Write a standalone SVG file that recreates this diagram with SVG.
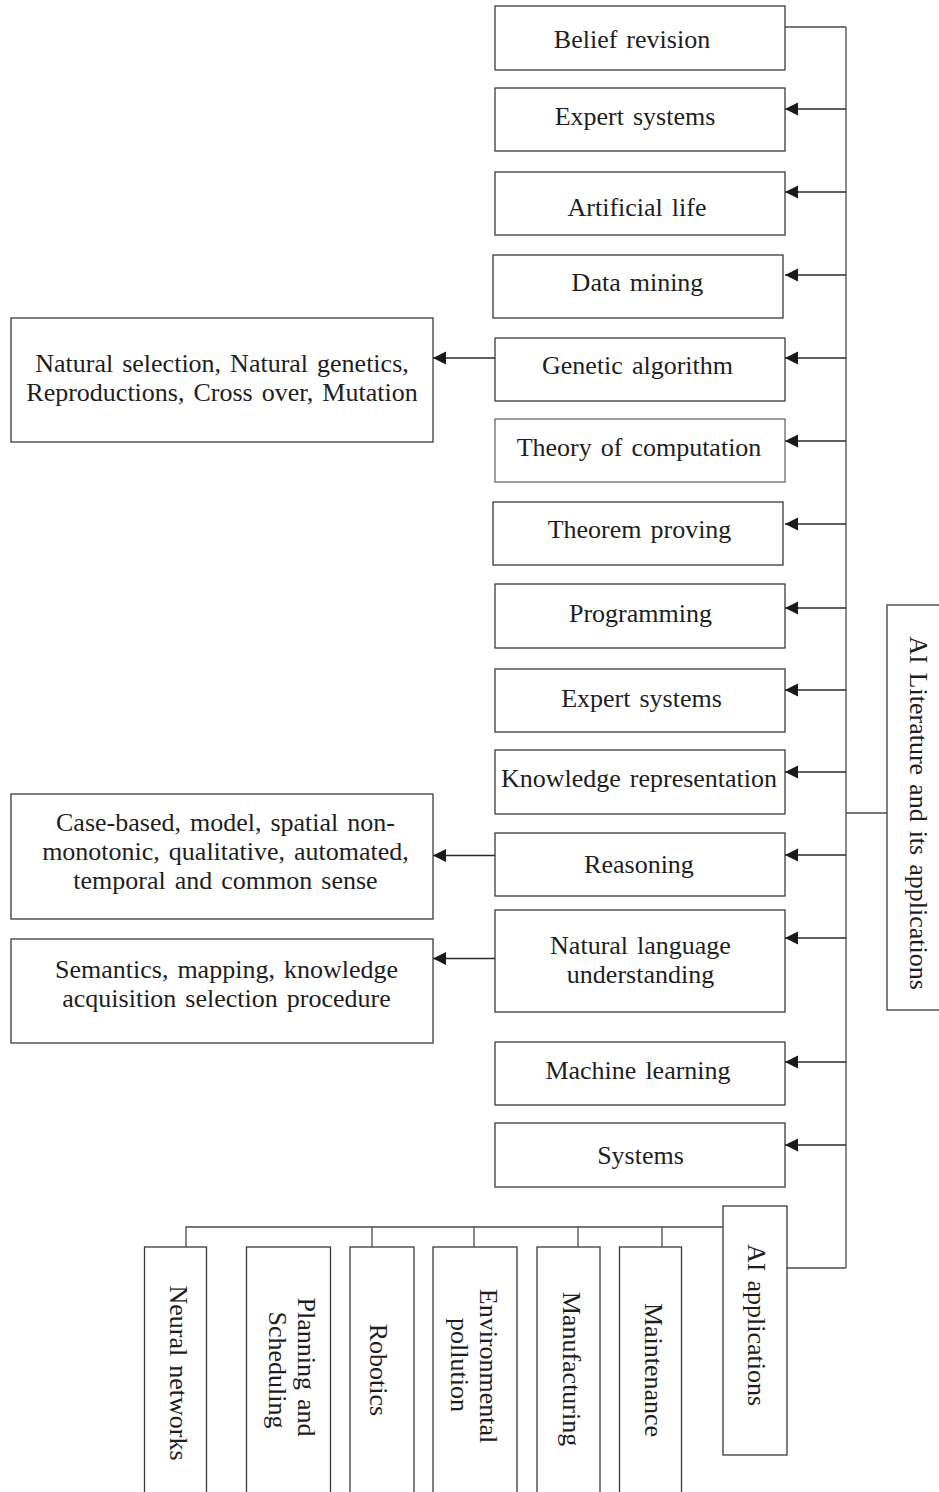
<svg xmlns="http://www.w3.org/2000/svg" width="939" height="1492" viewBox="0 0 939 1492">
<style>
.box{fill:#fff;stroke:#3a3a3a;stroke-width:1.3}
.t{font-family:"Liberation Serif","Times New Roman",serif;font-size:26px;fill:#1e1e1e;text-anchor:middle;word-spacing:2.5px}
.ln{fill:none;stroke:#4a4a4a;stroke-width:1.3}
.ar{fill:none;stroke:#2a2a2a;stroke-width:1.3;marker-end:url(#ah)}
</style>
<defs>
<marker id="ah" markerUnits="userSpaceOnUse" markerWidth="14" markerHeight="14" refX="13" refY="6.5" orient="auto">
<path d="M0,0 L13,6.5 L0,13 Z" fill="#1a1a1a"/>
</marker>
</defs>
<rect width="939" height="1492" fill="#fff"/>
<g id="connectors">
<path class="ln" d="M846,27 V1268"/>
<path class="ln" d="M785,27 H846"/>
<path class="ln" d="M846,813 H887"/>
<path class="ln" d="M787,1268 H846"/>
<path class="ar" d="M846,109 H785"/>
<path class="ar" d="M846,192 H785"/>
<path class="ar" d="M846,275 H785"/>
<path class="ar" d="M846,358 H785"/>
<path class="ar" d="M846,441 H785"/>
<path class="ar" d="M846,524 H785"/>
<path class="ar" d="M846,608 H785"/>
<path class="ar" d="M846,690 H785"/>
<path class="ar" d="M846,772 H785"/>
<path class="ar" d="M846,855 H785"/>
<path class="ar" d="M846,938 H785"/>
<path class="ar" d="M846,1062 H785"/>
<path class="ar" d="M846,1145 H785"/>
<path class="ar" d="M495,358 H433"/>
<path class="ar" d="M495,855.5 H433"/>
<path class="ar" d="M495,958.5 H433"/>
<path class="ln" d="M186,1247 V1227 H723"/>
<path class="ln" d="M372,1227 V1247"/>
<path class="ln" d="M474,1227 V1247"/>
<path class="ln" d="M578,1227 V1247"/>
<path class="ln" d="M662,1227 V1247"/>
</g>
<g id="belief-revision"><rect class="box" x="495" y="6" width="290" height="64"/><text class="t" x="632" y="48">Belief revision</text></g>
<g id="expert-systems-1"><rect class="box" x="495" y="88" width="290" height="63"/><text class="t" x="635" y="125">Expert systems</text></g>
<g id="artificial-life"><rect class="box" x="495" y="172" width="290" height="63"/><text class="t" x="637" y="216">Artificial life</text></g>
<g id="data-mining"><rect class="box" x="493" y="255" width="290" height="63"/><text class="t" x="637.5" y="291">Data mining</text></g>
<g id="genetic-algorithm"><rect class="box" x="495" y="338" width="290" height="63"/><text class="t" x="637.5" y="374">Genetic algorithm</text></g>
<g id="theory-of-computation"><rect class="box" x="495" y="419" width="290" height="63" style="stroke:#6a6a6a"/><text class="t" x="639" y="456">Theory of computation</text></g>
<g id="theorem-proving"><rect class="box" x="493" y="502" width="290" height="63"/><text class="t" x="639.5" y="538">Theorem proving</text></g>
<g id="programming"><rect class="box" x="495" y="584" width="290" height="64"/><text class="t" x="640.5" y="622">Programming</text></g>
<g id="expert-systems-2"><rect class="box" x="495" y="669" width="290" height="63"/><text class="t" x="641.5" y="707">Expert systems</text></g>
<g id="knowledge-representation"><rect class="box" x="495" y="750" width="290" height="64"/><text class="t" x="639" y="787">Knowledge representation</text></g>
<g id="reasoning"><rect class="box" x="495" y="833" width="290" height="63"/><text class="t" x="639" y="873">Reasoning</text></g>
<g id="natural-language-understanding"><rect class="box" x="495" y="910" width="290" height="102"/><text class="t" x="640.5" y="954">Natural language</text><text class="t" x="640.5" y="983">understanding</text></g>
<g id="machine-learning"><rect class="box" x="495" y="1042" width="290" height="63"/><text class="t" x="638" y="1079">Machine learning</text></g>
<g id="systems"><rect class="box" x="495" y="1123" width="290" height="64"/><text class="t" x="640.5" y="1164">Systems</text></g>
<g id="genetic-details"><rect class="box" x="11" y="318" width="422" height="124"/><text class="t" x="222" y="372">Natural selection, Natural genetics,</text><text class="t" x="222" y="401">Reproductions, Cross over, Mutation</text></g>
<g id="reasoning-details"><rect class="box" x="11" y="794" width="422" height="125"/><text class="t" x="225.5" y="831">Case-based, model, spatial non-</text><text class="t" x="225.5" y="860">monotonic, qualitative, automated,</text><text class="t" x="225.5" y="889">temporal and common sense</text></g>
<g id="nlu-details"><rect class="box" x="11" y="939" width="422" height="104"/><text class="t" x="226.5" y="978">Semantics, mapping, knowledge</text><text class="t" x="226.5" y="1007">acquisition selection procedure</text></g>
<g id="ai-literature"><rect class="box" x="887" y="605" width="60" height="405"/><text class="t" transform="translate(910,813) rotate(90)">AI Literature and its applications</text></g>
<g id="ai-applications"><rect class="box" x="723" y="1206" width="64" height="249"/><text class="t" transform="translate(748,1325) rotate(90)">AI applications</text></g>
<g id="neural-networks"><rect class="box" x="144.5" y="1247" width="62" height="260"/><text class="t" transform="translate(170,1373) rotate(90)">Neural networks</text></g>
<g id="planning-scheduling"><rect class="box" x="246.5" y="1247" width="84" height="260"/><text class="t" transform="translate(298,1367) rotate(90)">Planning and</text><text class="t" transform="translate(269,1370) rotate(90)">Scheduling</text></g>
<g id="robotics"><rect class="box" x="350" y="1247" width="64" height="260"/><text class="t" transform="translate(370,1370) rotate(90)">Robotics</text></g>
<g id="environmental-pollution"><rect class="box" x="433" y="1247" width="84" height="260"/><text class="t" transform="translate(480,1366) rotate(90)">Environmental</text><text class="t" transform="translate(451,1365) rotate(90)">pollution</text></g>
<g id="manufacturing"><rect class="box" x="537" y="1247" width="63" height="260"/><text class="t" transform="translate(563,1369) rotate(90)">Manufacturing</text></g>
<g id="maintenance"><rect class="box" x="619.5" y="1247" width="62" height="260"/><text class="t" transform="translate(645,1370) rotate(90)">Maintenance</text></g>
</svg>
